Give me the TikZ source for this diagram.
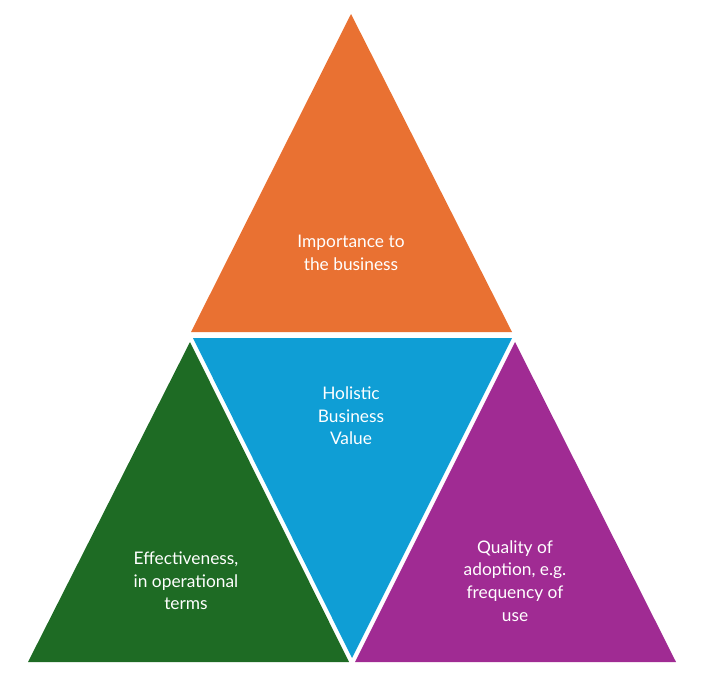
\documentclass[tikz,border=0pt]{standalone}
\usepackage{fontspec}
\setmainfont{Lato}
\definecolor{corange}{HTML}{E97132}
\definecolor{cgreen}{HTML}{1E6B24}
\definecolor{cblue}{HTML}{0F9ED5}
\definecolor{cpurple}{HTML}{A02B93}
\begin{document}
\begin{tikzpicture}[x=0.75pt,y=-0.75pt,
    label/.style={text=white,align=center,font=\fontsize{13}{17}\selectfont}]
        \useasboundingbox (0,0) rectangle (705,678);
        % triangles
        \fill[corange] (351,14) -- (512,332) -- (191,332) -- cycle;
        \fill[cgreen] (190,342) -- (349,662) -- (28,662) -- cycle;
        \fill[cblue] (193,338) -- (512,338) -- (352,658) -- cycle;
        \fill[cpurple] (515,342) -- (676,662) -- (355,662) -- cycle;
        % texts
        \path
        +(351,253) node[label] (imp) {Importance to\\the business}
        +(351,416) node[label] (hol) {Holistic\\Business\\Value}
        +(186,581) node[label] (eff) {Effectiveness,\\in operational\\terms}
        +(515,581) node[label] (qua) {Quality of\\adoption, e.g.\\frequency of\\use};
    \end{tikzpicture}
\end{document}
